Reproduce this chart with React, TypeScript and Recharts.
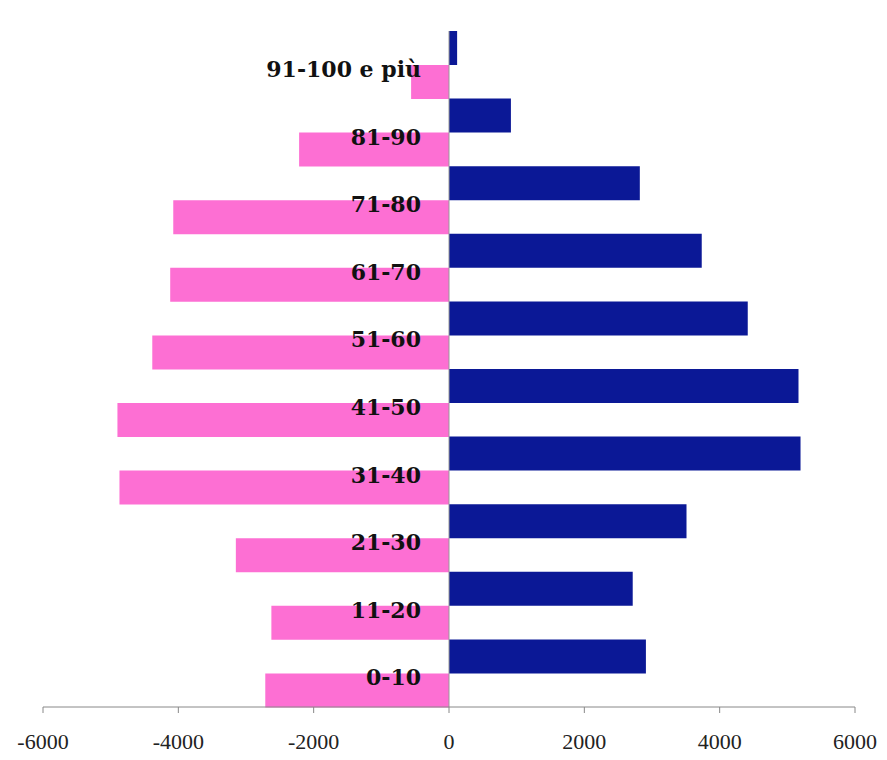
import { BarChart, Bar, XAxis, YAxis, ReferenceLine, LabelList } from 'recharts';

const AGE_GROUPS = ['91-100 e più', '81-90', '71-80', '61-70', '51-60', '41-50', '31-40', '21-30', '11-20', '0-10'];
const MALES = [120, 915, 2820, 3735, 4415, 5165, 5195, 3510, 2715, 2910];
const FEMALES = [560, 2215, 4075, 4120, 4385, 4900, 4870, 3150, 2625, 2715];
const X_TICKS = [-6000, -4000, -2000, 0, 2000, 4000, 6000];

const data = AGE_GROUPS.map((age, i) => ({
  age,
  males: MALES[i],
  females: -FEMALES[i],
}));

const BLUE = '#0b1896';
const PINK = '#fd6fd3';
const SERIF = "'Liberation Serif', 'Times New Roman', serif";

// label sits at the zero line, on the boundary between the two bars of a group
function AgeLabel(props: any) {
  const { x, y, height, value } = props;
  return (
    <text
      x={x - 28}
      y={y + height + 12}
      textAnchor="end"
      style={{ fontFamily: "'DejaVu Serif', serif", fontWeight: 'bold', fontSize: 22 }}
      fill="#111"
    >
      {value}
    </text>
  );
}

function XTick(props: any) {
  const { x, y, payload } = props;
  return (
    <text x={x} y={y + 16} textAnchor="middle" style={{ fontFamily: SERIF, fontSize: 22 }} fill="#222">
      {payload.value}
    </text>
  );
}

export default function App() {
  return (
    <div style={{ position: 'absolute', left: 0, top: 0, width: 887, height: 760, background: '#fff' }}>
      <BarChart
        width={887}
        height={760}
        data={data}
        layout="vertical"
        margin={{ top: 31, right: 32, bottom: 0, left: 43 }}
        barCategoryGap={0}
        barGap={0}
      >
        <XAxis
          type="number"
          domain={[-6000, 6000]}
          ticks={X_TICKS}
          height={53}
          stroke="#888"
          tickSize={6}
          tickMargin={20}
          tick={(p: any) => <XTick {...p} />}
        />
        <YAxis type="category" dataKey="age" hide />
        <ReferenceLine x={0} stroke="#999" strokeWidth={1} />
        <Bar dataKey="males" fill={BLUE} isAnimationActive={false}>
          <LabelList dataKey="age" content={AgeLabel} />
        </Bar>
        <Bar dataKey="females" fill={PINK} isAnimationActive={false} />
      </BarChart>
    </div>
  );
}
